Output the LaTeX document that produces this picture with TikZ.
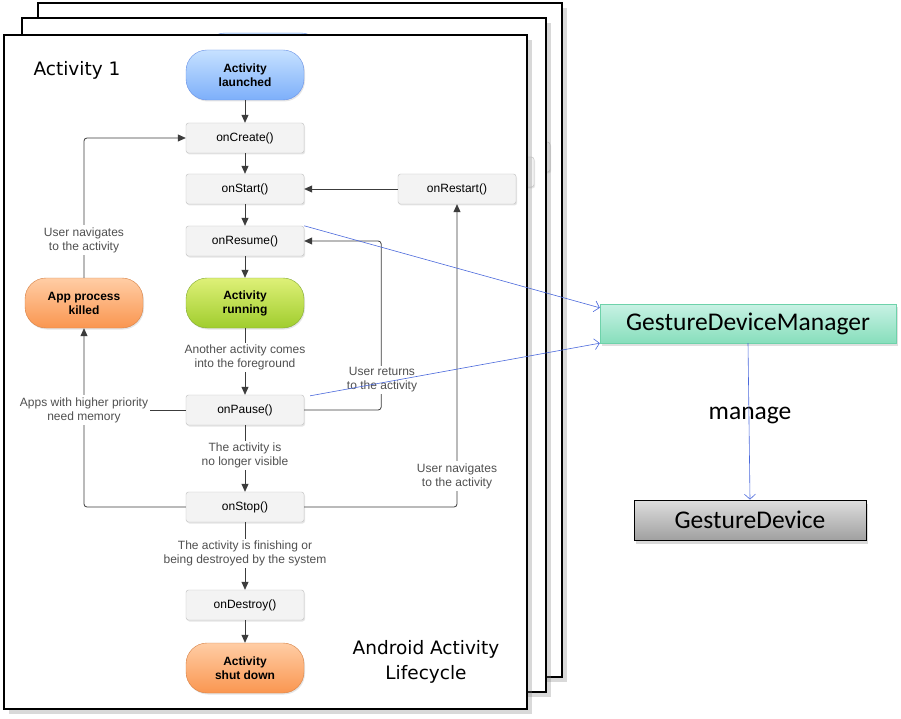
\documentclass[tikz,border=0pt]{standalone}
\usepackage{fontspec}
\setmainfont{Liberation Sans}
\newfontfamily\titlefont{DejaVu Sans}
\newfontfamily\gesturefont{Carlito}
\usetikzlibrary{arrows.meta, shadows, positioning}

\definecolor{boxfill}{RGB}{243,243,243}
\definecolor{boxline}{RGB}{190,190,190}
\definecolor{lineg}{RGB}{60,60,60}
\definecolor{notegray}{RGB}{80,80,80}
\definecolor{linkblue}{RGB}{75,105,220}
\definecolor{bluetop}{RGB}{198,225,255}
\definecolor{bluebot}{RGB}{125,175,250}
\definecolor{blueline}{RGB}{105,145,230}
\definecolor{greentop}{RGB}{222,240,120}
\definecolor{greenbot}{RGB}{160,205,45}
\definecolor{greenline}{RGB}{130,170,50}
\definecolor{orangetop}{RGB}{255,205,165}
\definecolor{orangebot}{RGB}{250,150,80}
\definecolor{orangeline}{RGB}{215,130,70}
\definecolor{minttop}{RGB}{200,242,228}
\definecolor{mintbot}{RGB}{135,222,188}
\definecolor{mintline}{RGB}{110,210,170}
\definecolor{greytop}{RGB}{222,222,222}
\definecolor{greybot}{RGB}{160,160,160}

\newcommand{\smalltext}{\fontsize{12}{14}\selectfont}
\newcommand{\bigtitle}{\titlefont\fontsize{18.5}{25}\selectfont}
\newcommand{\gesturetext}{\gesturefont\fontsize{25.5}{28}\selectfont}

\tikzstyle{page} = [
    draw=black,
    line width=1.4pt,
    fill=white,
    drop shadow={shadow xshift=5pt, shadow yshift=-5pt, opacity=.3}
]
\tikzstyle{lifebox} = [
    rectangle,
    rounded corners=2.5pt,
    minimum width=118pt,
    minimum height=30pt,
    text centered,
    draw=boxline,
    fill=boxfill,
    font=\smalltext,
    drop shadow={shadow xshift=1pt, shadow yshift=-1.5pt, opacity=.2}
]
\tikzstyle{pill} = [
    rectangle,
    rounded corners=21pt,
    minimum width=118pt,
    minimum height=50pt,
    align=center,
    font=\smalltext\bfseries,
    drop shadow={shadow xshift=1pt, shadow yshift=-1.5pt, opacity=.2}
]
\tikzstyle{bluepill} = [pill, draw=blueline, top color=bluetop, bottom color=bluebot]
\tikzstyle{greenpill} = [pill, draw=greenline, top color=greentop, bottom color=greenbot]
\tikzstyle{orangepill} = [pill, draw=orangeline, top color=orangetop, bottom color=orangebot]
\tikzstyle{note} = [align=center, font=\smalltext, text=notegray, fill=white, inner sep=2pt]
\tikzstyle{arrow} = [line width=0.8pt, draw=lineg, -{Triangle[length=8pt,width=7pt]}]
\tikzstyle{link} = [line width=0.6pt, draw=linkblue, -{Straight Barb[length=5pt,width=11pt]}]
\tikzstyle{gdmbox} = [
    rectangle,
    minimum width=296pt,
    minimum height=39pt,
    draw=mintline,
    top color=minttop,
    bottom color=mintbot,
    font=\gesturetext,
    drop shadow={shadow xshift=2pt, shadow yshift=-3pt, opacity=.25}
]
\tikzstyle{gdbox} = [
    rectangle,
    minimum width=232pt,
    minimum height=40pt,
    draw=black,
    line width=0.8pt,
    top color=greytop,
    bottom color=greybot,
    font=\gesturetext,
    drop shadow={shadow xshift=2pt, shadow yshift=-4pt, opacity=.3}
]

\begin{document}
\begin{tikzpicture}[x=1pt, y=-1pt]
\useasboundingbox (0,0) rectangle (901,719);

% Pages behind
\draw [page] (38,3) rectangle (562,677);
\draw [lifebox] (432,142) rectangle (550,172);
\draw [page] (22,18) rectangle (546,692);
\draw [lifebox] (416,157) rectangle (534,187);
\draw [bluepill] (204,33) rectangle (322,83);
\draw [page] (4,35) rectangle (527,709);

% Titles
\node (actTitle) [font=\bigtitle] at (77,70) {Activity 1};
\node (lifeTitle) [font=\bigtitle, align=center] at (426,662) {Android Activity\\Lifecycle};

% Nodes
\node (launched) [bluepill] at (245,75) {Activity\\launched};
\node (onCreate) [lifebox] at (245,138) {onCreate()};
\node (onStart) [lifebox] at (245,189) {onStart()};
\node (onRestart) [lifebox] at (457,189) {onRestart()};
\node (onResume) [lifebox] at (245,241) {onResume()};
\node (running) [greenpill] at (245,303) {Activity\\running};
\node (killed) [orangepill] at (84,303) {App process\\killed};
\node (onPause) [lifebox] at (245,410) {onPause()};
\node (onStop) [lifebox] at (245,507) {onStop()};
\node (onDestroy) [lifebox] at (245,605) {onDestroy()};
\node (shutdown) [orangepill] at (245,668) {Activity\\shut down};

\node (gdm) [gdmbox] at (748,323.5) {GestureDeviceManager};
\node (gdevice) [gdbox] at (750,520) {GestureDevice};
\node (manage) [font=\gesturetext] at (750,415) {manage};

% Arrows
\draw [arrow] (launched) -- (onCreate);
\draw [arrow] (onCreate) -- (onStart);
\draw [arrow] (onStart) -- (onResume);
\draw [arrow] (onResume) -- (running);
\draw [arrow] (running) -- node[note, pos=0.44] {Another activity comes\\into the foreground} (onPause);
\draw [arrow] (onPause) -- node[note, pos=0.45] {The activity is\\no longer visible} (onStop);
\draw [arrow] (onStop) -- node[note, pos=0.46] {The activity is finishing or\\being destroyed by the system} (onDestroy);
\draw [arrow] (onDestroy) -- (shutdown);
\draw [arrow] (onRestart) -- (onStart);
\draw [arrow, rounded corners=3pt] (onStop.east) -| (onRestart.south);
\draw [arrow, rounded corners=3pt] (onPause.east) -- ++(77,0) |- (onResume.east);
\draw [arrow, rounded corners=3pt] (killed.north) |- (onCreate.west);
\draw [arrow, rounded corners=3pt] (onStop.west) -| (killed.south);

% Labels on the loops
\node (navLeft) [note] at (84,240) {User navigates\\to the activity};
\node (memory) [note] at (84,410) {Apps with higher priority\\need memory};
\node (returns) [note] at (382,380) {User returns\\to the activity};
\node (navRight) [note] at (457,476) {User navigates\\to the activity};
\draw [line width=0.8pt, draw=lineg] (onPause.west) -- (memory.east);

% Links to the gesture classes
\draw [link] (onResume.north east) -- ([yshift=-4pt]gdm.north west);
\draw [link] ([xshift=6pt, yshift=-1pt]onPause.north east) -- (gdm.south west);
\draw [link] (gdm.south) -- (gdevice.north);

\end{tikzpicture}
\end{document}
